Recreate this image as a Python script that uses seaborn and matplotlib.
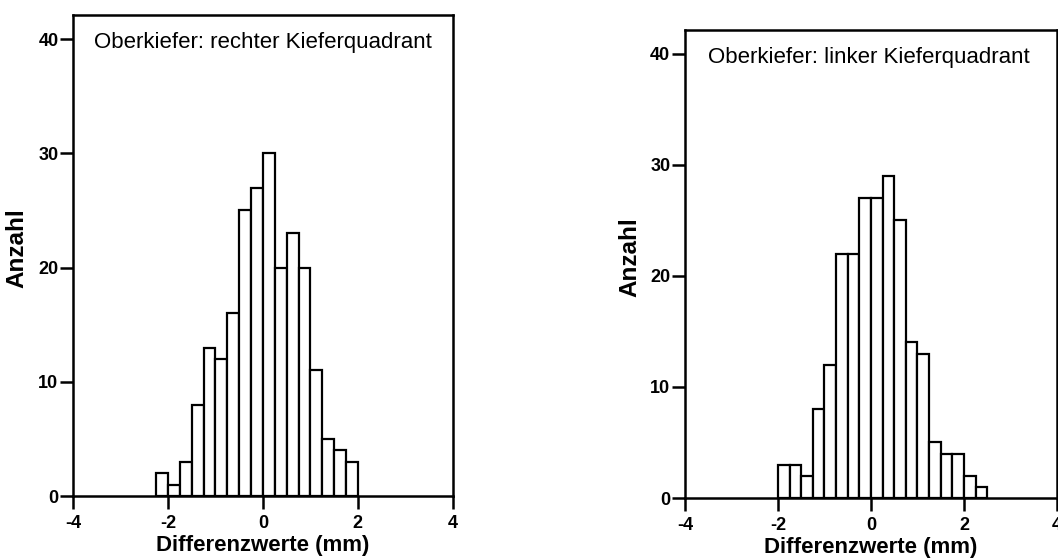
import numpy as np
import pandas as pd
import matplotlib
matplotlib.use("Agg")
import matplotlib.pyplot as plt
import seaborn as sns

# bin left edges (width 0.25 mm) and counts
rechts_bins = [-2.25, -2.0, -1.75, -1.5, -1.25, -1.0, -0.75, -0.5, -0.25,
               0.0, 0.25, 0.5, 0.75, 1.0, 1.25, 1.5, 1.75]
rechts_counts = [2, 1, 3, 8, 13, 12, 16, 25, 27, 30, 20, 23, 20, 11, 5, 4, 3]

links_bins = [-2.0, -1.75, -1.5, -1.25, -1.0, -0.75, -0.5, -0.25, 0.0,
              0.25, 0.5, 0.75, 1.0, 1.25, 1.5, 1.75, 2.0, 2.25]
links_counts = [3, 3, 2, 8, 12, 22, 22, 27, 27, 29, 25, 14, 13, 5, 4, 4, 2, 1]

titles = ["Oberkiefer: rechter Kieferquadrant", "Oberkiefer: linker Kieferquadrant"]
x_ticks = [-4, -2, 0, 2, 4]
y_ticks = [0, 10, 20, 30, 40]
bin_width = 0.25

sns.set_style("ticks")
plt.rcParams['font.family'] = ['Liberation Sans', 'DejaVu Sans']
plt.rcParams['axes.unicode_minus'] = False
plt.rcParams['text.color'] = 'black'
plt.rcParams['axes.labelcolor'] = 'black'
plt.rcParams['xtick.color'] = 'black'
plt.rcParams['ytick.color'] = 'black'
plt.rcParams['axes.edgecolor'] = 'black'

fig = plt.figure(figsize=(10.58, 5.59), dpi=100)
ax1 = fig.add_axes([0.069, 0.1127, 0.359, 0.8603])
ax2 = fig.add_axes([0.6474, 0.1091, 0.3516, 0.8369])

panels = [(ax1, rechts_bins, rechts_counts, titles[0], 0.5),
          (ax2, links_bins, links_counts, titles[1], 0.495)]

for ax, bins, counts, title, tx in panels:
    df = pd.DataFrame({"mid": np.array(bins) + bin_width / 2, "n": counts})
    edges = list(bins) + [bins[-1] + bin_width]
    sns.histplot(data=df, x="mid", weights="n", bins=edges, ax=ax,
                 color="white", edgecolor="black", linewidth=1.6, alpha=1)
    ax.set_xlim(-4, 4)
    ax.set_ylim(0, 42.1)
    ax.set_xticks(x_ticks)
    ax.set_yticks(y_ticks)
    ax.tick_params(direction="out", length=9.5, width=1.8, labelsize=13)
    ax.tick_params(axis="x", pad=4)
    ax.tick_params(axis="y", pad=1)
    for lab in ax.get_xticklabels() + ax.get_yticklabels():
        lab.set_fontweight("bold")
    for sp in ax.spines.values():
        sp.set_visible(True)
        sp.set_linewidth(1.8)
    ax.set_xlabel("Differenzwerte (mm)", fontsize=16, fontweight="bold", labelpad=2)
    ax.set_ylabel("Anzahl", fontsize=17.5, fontweight="bold")
    ax.yaxis.set_label_coords(-0.117, 0.515)
    ax.text(tx, 0.942, title, transform=ax.transAxes, ha="center", va="center",
            fontsize=16)

fig.savefig("out.png", dpi=100)
